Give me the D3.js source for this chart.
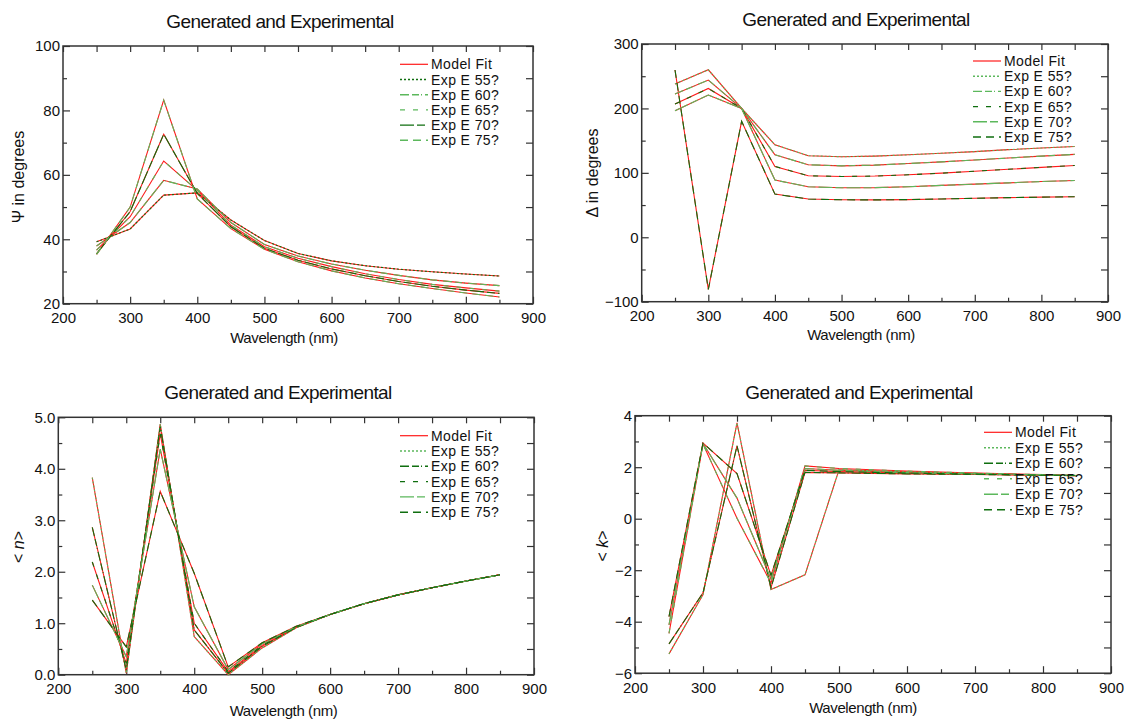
<!DOCTYPE html>
<html>
<head>
<meta charset="utf-8">
<script src="https://cdn.jsdelivr.net/npm/d3@7"></script>
<style>
  body { margin: 0; background: #fff; }
  svg { display: block; }
  text { font-family: "Liberation Sans", Arial, sans-serif; fill: #111; }
</style>
</head>
<body>
<svg id="chart" width="1133" height="719"></svg>
<script>
// ---- data -------------------------------------------------------------
const wavelengths = [250, 300, 350, 400, 450, 500, 550, 600, 650, 700, 750, 800, 850];
const xTicks = [200, 300, 400, 500, 600, 700, 800, 900];
const xMinorTicks = [250, 350, 450, 550, 650, 750, 850];

const seriesLabels = ["Model Fit", "Exp E 55?", "Exp E 60?", "Exp E 65?", "Exp E 70?", "Exp E 75?"];

// Psi (degrees) for the five angles of incidence
const psi55 = [39.2, 43.2, 53.7, 54.4, 46.0, 39.6, 35.6, 33.3, 31.8, 30.7, 29.9, 29.2, 28.6];
const psi60 = [37.9, 45.2, 58.3, 55.6, 45.2, 38.4, 34.8, 32.3, 30.4, 28.8, 27.4, 26.4, 25.6];
const psi65 = [36.6, 47.0, 64.3, 55.2, 44.4, 37.7, 34.1, 31.5, 29.3, 27.5, 26.0, 24.9, 23.9];
const psi70 = [35.5, 48.6, 72.6, 54.2, 43.9, 37.2, 33.5, 30.8, 28.7, 26.9, 25.4, 24.2, 23.2];
const psi75 = [35.3, 50.0, 83.2, 52.5, 43.3, 36.9, 33.0, 30.2, 28.0, 26.2, 24.7, 23.3, 22.1];
const psiTicks = [20, 40, 60, 80, 100];
const psiMinor = [30, 50, 70, 90];

// Delta (degrees)
const delta55 = [238.0, 260.0, 200.0, 143.6, 126.6, 125.0, 126.0, 128.0, 130.5, 133.0, 136.0, 138.5, 141.0];
const delta60 = [222.4, 244.0, 200.0, 128.0, 112.6, 110.9, 112.0, 114.5, 117.0, 120.0, 123.0, 126.0, 128.6];
const delta65 = [206.8, 231.0, 200.0, 110.0, 95.5, 94.4, 95.0, 97.0, 99.5, 102.5, 105.5, 108.5, 111.5];
const delta70 = [196.4, 220.8, 200.0, 88.8, 78.4, 76.8, 77.0, 78.5, 80.5, 82.5, 84.5, 86.5, 88.2];
const delta75 = [259.6, -81.0, 180.0, 67.0, 59.3, 58.2, 58.0, 58.5, 59.5, 60.5, 61.5, 62.3, 63.0];
const deltaTicks = [-100, 0, 100, 200, 300];
const deltaMinor = [-50, 50, 150, 250];

// pseudo refractive index <n>
const n55 = [3.83, 0.03, 4.87, 0.74, 0.00, 0.52, 0.91, 1.17, 1.38, 1.55, 1.69, 1.82, 1.94];
const n60 = [2.86, 0.09, 4.82, 0.87, 0.03, 0.55, 0.92, 1.17, 1.38, 1.55, 1.69, 1.82, 1.94];
const n65 = [2.19, 0.22, 4.68, 1.00, 0.06, 0.57, 0.92, 1.17, 1.38, 1.55, 1.69, 1.82, 1.94];
const n70 = [1.74, 0.35, 4.38, 1.32, 0.10, 0.60, 0.93, 1.17, 1.38, 1.55, 1.69, 1.82, 1.94];
const n75 = [1.45, 0.54, 3.56, 1.97, 0.15, 0.62, 0.94, 1.17, 1.38, 1.55, 1.69, 1.82, 1.94];
const nTicks = [0, 1, 2, 3, 4, 5];
const nMinor = [0.5, 1.5, 2.5, 3.5, 4.5];

// pseudo extinction coefficient <k>
const k55 = [-5.25, -2.95, 3.72, -2.75, -2.18, 1.90, 1.86, 1.82, 1.79, 1.76, 1.73, 1.70, 1.67];
const k60 = [-4.86, -2.88, 2.83, -2.68, 1.80, 1.78, 1.76, 1.74, 1.73, 1.72, 1.70, 1.69, 1.67];
const k65 = [-4.45, 2.90, 0.02, -2.50, 2.05, 1.95, 1.90, 1.85, 1.81, 1.77, 1.74, 1.71, 1.68];
const k70 = [-4.12, 2.92, 0.80, -2.35, 1.95, 1.88, 1.83, 1.79, 1.76, 1.74, 1.72, 1.70, 1.68];
const k75 = [-3.80, 2.94, 1.75, -2.20, 1.88, 1.83, 1.80, 1.77, 1.75, 1.73, 1.71, 1.69, 1.68];
const kTicks = [-6, -4, -2, 0, 2, 4];
const kMinor = [-5, -3, -1, 1, 3];

// ---- styles -----------------------------------------------------------
const RED = "#ff1a1a";
const DARK = "#0f6e0f";
const LIGHT = "#5cb85c";
const dashes = ["2,2", "9,3,7,2,1,3", "5,8", "14,3,8,3", "8,5"];

// ---- panels -----------------------------------------------------------
const panels = [
  {
    series: [psi55, psi60, psi65, psi70, psi75],
    colors: [DARK, LIGHT, LIGHT, DARK, LIGHT],
    yDomain: [20, 100], yTicks: psiTicks, yMinor: psiMinor, fmt: d3.format("d"),
    yLabel: "\u03A8 in degrees", italic: false,
    box: { l: 63, r: 533, t: 46, b: 303.7 },
    title: { x: 280, y: 27.5 }, xlab: { x: 284, y: 343 }, ylab: { x: 24, y: 177 },
    legend: { x: 400, y: 64.3, dy: 15.2 }
  },
  {
    series: [delta55, delta60, delta65, delta70, delta75],
    colors: [LIGHT, LIGHT, DARK, LIGHT, DARK],
    yDomain: [-100, 300], yTicks: deltaTicks, yMinor: deltaMinor, fmt: d3.format("d"),
    yLabel: "\u0394 in degrees", italic: false,
    box: { l: 641.7, r: 1108, t: 44, b: 301.7 },
    title: { x: 856, y: 25.5 }, xlab: { x: 861, y: 340 }, ylab: { x: 598, y: 173 },
    legend: { x: 973, y: 61, dy: 15.2 }
  },
  {
    series: [n55, n60, n65, n70, n75],
    colors: [LIGHT, DARK, DARK, LIGHT, DARK],
    yDomain: [0, 5], yTicks: nTicks, yMinor: nMinor, fmt: d3.format(".1f"),
    yLabel: "n", italic: true,
    box: { l: 58.3, r: 534, t: 417.3, b: 674.7 },
    title: { x: 278, y: 399 }, xlab: { x: 283.5, y: 716 }, ylab: { x: 24, y: 547 },
    legend: { x: 400, y: 435.7, dy: 15.3 }
  },
  {
    series: [k55, k60, k65, k70, k75],
    colors: [LIGHT, DARK, LIGHT, LIGHT, DARK],
    yDomain: [-6, 4], yTicks: kTicks, yMinor: kMinor, fmt: d3.format("d"),
    yLabel: "k", italic: true,
    box: { l: 635, r: 1111, t: 415.7, b: 673.2 },
    title: { x: 859, y: 399 }, xlab: { x: 863, y: 713 }, ylab: { x: 608, y: 546 },
    legend: { x: 984, y: 432.3, dy: 15.5 }
  }
];

const svg = d3.select("#chart");
const MAJOR = 7, MINOR = 4;

function stripDomain(sel) { sel.select(".domain").remove(); }

function styleTicks(sel) {
  sel.selectAll(".tick line").attr("stroke", "#333").attr("stroke-width", 1.2);
  sel.selectAll(".tick text")
    .attr("fill", "#111")
    .style("font-size", "15px")
    .style("font-family", "'Liberation Sans', Arial, sans-serif");
}

panels.forEach(p => {
  const x = d3.scaleLinear().domain([200, 900]).range([p.box.l, p.box.r]);
  const y = d3.scaleLinear().domain(p.yDomain).range([p.box.b, p.box.t]);
  const g = svg.append("g");

  // axes with inward ticks on all four sides
  g.append("g").attr("transform", `translate(0,${p.box.b})`)
    .call(d3.axisBottom(x).tickValues(xTicks).tickSize(-MAJOR).tickPadding(9).tickFormat(d3.format("d")))
    .call(stripDomain).call(styleTicks);
  g.append("g").attr("transform", `translate(0,${p.box.b})`)
    .call(d3.axisBottom(x).tickValues(xMinorTicks).tickSize(-MINOR).tickFormat(""))
    .call(stripDomain).call(styleTicks);
  g.append("g").attr("transform", `translate(0,${p.box.t})`)
    .call(d3.axisTop(x).tickValues(xTicks.concat(xMinorTicks)).tickSize(-MAJOR + 1).tickFormat(""))
    .call(stripDomain).call(styleTicks);

  g.append("g").attr("transform", `translate(${p.box.l},0)`)
    .call(d3.axisLeft(y).tickValues(p.yTicks).tickSize(-MAJOR).tickPadding(3).tickFormat(p.fmt))
    .call(stripDomain).call(styleTicks);
  g.append("g").attr("transform", `translate(${p.box.l},0)`)
    .call(d3.axisLeft(y).tickValues(p.yMinor).tickSize(-MINOR).tickFormat(""))
    .call(stripDomain).call(styleTicks);
  g.append("g").attr("transform", `translate(${p.box.r},0)`)
    .call(d3.axisRight(y).tickValues(p.yTicks.concat(p.yMinor)).tickSize(-MAJOR).tickFormat(""))
    .call(stripDomain).call(styleTicks);

  // frame
  g.append("rect")
    .attr("x", p.box.l).attr("y", p.box.t)
    .attr("width", p.box.r - p.box.l).attr("height", p.box.b - p.box.t)
    .attr("fill", "none").attr("stroke", "#333").attr("stroke-width", 1.5);

  // curves: model fit in red, experimental dashed on top
  const line = d3.line().x((d, i) => x(wavelengths[i])).y(d => y(d));
  const plot = g.append("g");
  p.series.forEach(s => {
    plot.append("path").attr("d", line(s))
      .attr("fill", "none").attr("stroke", RED).attr("stroke-width", 1.1);
  });
  p.series.forEach((s, i) => {
    plot.append("path").attr("d", line(s))
      .attr("fill", "none").attr("stroke", p.colors[i]).attr("stroke-width", 1.1)
      .attr("stroke-dasharray", dashes[i]);
  });

  // legend
  const lg = g.append("g");
  seriesLabels.forEach((lab, i) => {
    const ly = p.legend.y + i * p.legend.dy;
    lg.append("line")
      .attr("x1", p.legend.x).attr("x2", p.legend.x + 28)
      .attr("y1", ly).attr("y2", ly)
      .attr("stroke", i === 0 ? RED : p.colors[i - 1])
      .attr("stroke-width", i === 0 ? 1.2 : 1.4)
      .attr("stroke-dasharray", i === 0 ? null : dashes[i - 1]);
    lg.append("text")
      .attr("x", p.legend.x + 31).attr("y", ly + 5)
      .style("font-size", "14px").style("letter-spacing", "0.4px")
      .text(lab);
  });

  // title
  g.append("text")
    .attr("x", p.title.x).attr("y", p.title.y)
    .attr("text-anchor", "middle")
    .style("font-size", "19px").style("letter-spacing", "-0.6px")
    .text("Generated and Experimental");

  // x axis label
  g.append("text")
    .attr("x", p.xlab.x).attr("y", p.xlab.y)
    .attr("text-anchor", "middle")
    .style("font-size", "15px").style("letter-spacing", "-0.4px")
    .text("Wavelength (nm)");

  // y axis label
  const yl = g.append("text")
    .attr("transform", `translate(${p.ylab.x},${p.ylab.y}) rotate(-90)`)
    .attr("text-anchor", "middle")
    .style("font-size", "16px");
  if (p.italic) {
    yl.append("tspan").text("< ");
    yl.append("tspan").style("font-style", "italic").text(p.yLabel);
    yl.append("tspan").text(">");
  } else {
    yl.text(p.yLabel);
  }
});
</script>
</body>
</html>
